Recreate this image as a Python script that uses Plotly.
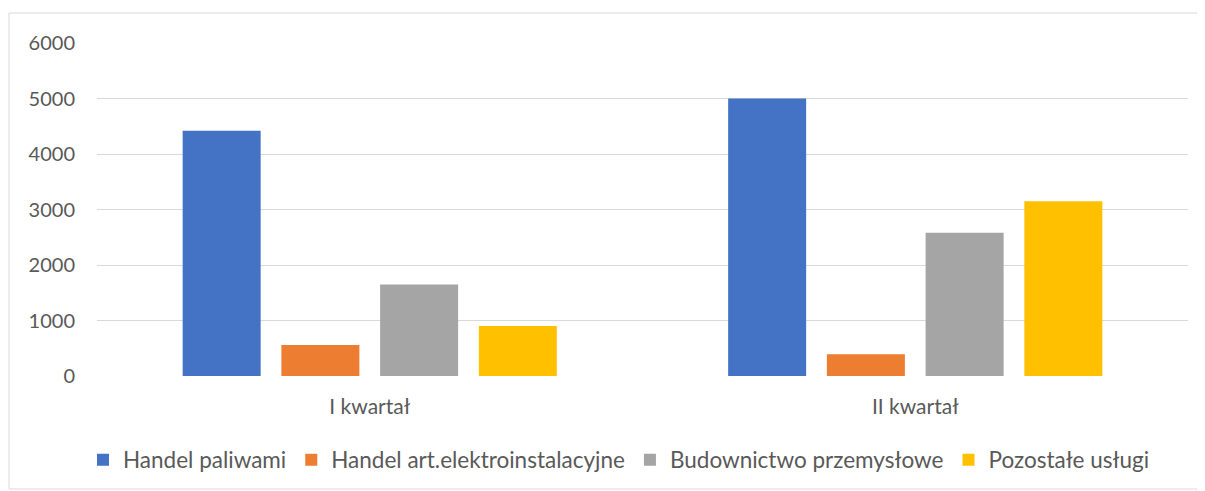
import plotly.graph_objects as go

categories = ["I kwartał", "II kwartał"]
series_names = ["Handel paliwami", "Handel art.elektroinstalacyjne",
                "Budownictwo przemysłowe", "Pozostałe usługi"]
handel_paliwami = [4420, 5000]
handel_elektro = [560, 390]
budownictwo = [1650, 2580]
pozostale = [900, 3150]
colors = ["#4472C4", "#ED7D31", "#A5A5A5", "#FFC000"]
y_ticks = [0, 1000, 2000, 3000, 4000, 5000, 6000]

values = [handel_paliwami, handel_elektro, budownictwo, pozostale]

FONT = "Lato"
TXT = "#595959"

fig = go.Figure()
for name, vals, col in zip(series_names, values, colors):
    fig.add_trace(go.Bar(x=categories, y=vals, name=name,
                         marker=dict(color=col, line=dict(width=0))))

# page body has an 8px margin; figure sized to fit the window
OFF = 8
W, H = 1205 - OFF, 491 - OFF
L = 97 - OFF
T = 43 - OFF
R = W - (1188 - OFF)
B = H - (376 - OFF)
pw = W - L - R
ph = H - T - B

def px2x(p):
    return (p - OFF - L) / pw

def py2y(p):
    return (H - B - (p - OFF)) / ph

fig.update_layout(
    width=W, height=H,
    margin=dict(l=L, r=R, t=T, b=B, pad=0, autoexpand=False),
    paper_bgcolor="white", plot_bgcolor="white",
    barmode="group", bargap=0.276, bargroupgap=0.21,
    font=dict(family=FONT, size=20, color=TXT),
    showlegend=True,
    legend=dict(orientation="h", xref="container", yref="container",
                x=(83 - OFF) / W, xanchor="left",
                y=1 - (438.5 - OFF) / H, yanchor="top",
                font=dict(family=FONT, size=22.5, color=TXT),
                traceorder="normal", itemwidth=30, bgcolor="rgba(0,0,0,0)"),
    shapes=[dict(type="rect", xref="paper", yref="paper",
                 x0=px2x(9), x1=px2x(1260), y0=py2y(489), y1=py2y(13),
                 line=dict(color="#d9d9d9", width=1), layer="below")],
)
fig.update_yaxes(range=[0, 6000], tickvals=y_ticks, showgrid=True,
                 gridcolor="#d9d9d9", gridwidth=1, zeroline=False,
                 showline=False, ticks="", ticklabelstandoff=21,
                 tickfont=dict(family=FONT, size=20, color=TXT))
fig.update_xaxes(showgrid=False, showline=False, zeroline=False, ticks="",
                 ticklabelstandoff=16,
                 tickfont=dict(family=FONT, size=21, color=TXT))

fig.write_html("out.html")
